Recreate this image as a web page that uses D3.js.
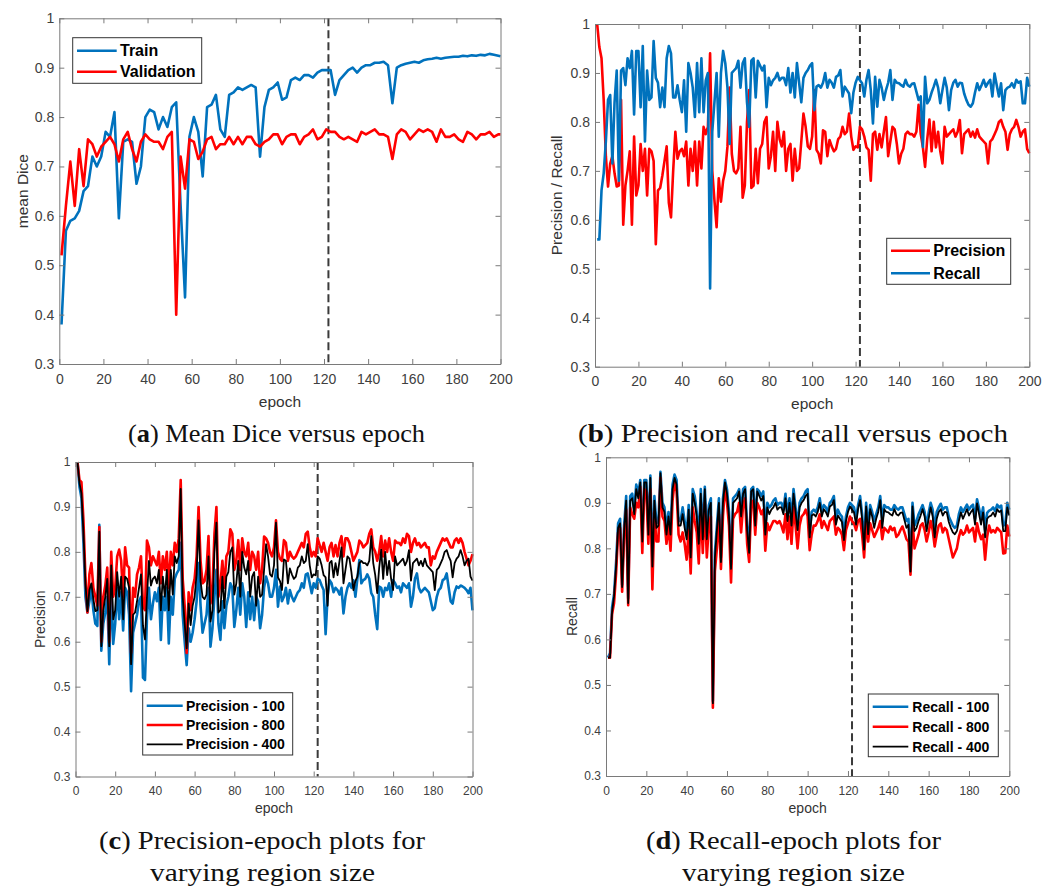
<!DOCTYPE html>
<html>
<head>
<meta charset="utf-8">
<script src="https://cdn.jsdelivr.net/npm/d3@7"></script>
<style>
  body { margin: 0; background: #fff; }
  svg { display: block; font-family: "Liberation Sans", Arial, sans-serif; }
</style>
</head>
<body>
<svg id="fig" width="1051" height="887"></svg>
<script>
// ---- categories / ticks ----
var epochsA = d3.range(1, 200, 2).concat([200]); // panel (a) sampled every other epoch
var epochs = d3.range(1, 201);                   // panels (b)-(d) every epoch
var xTicks = [0, 20, 40, 60, 80, 100, 120, 140, 160, 180, 200];
var xTickLabels = ['0', '20', '40', '60', '80', '100', '120', '140', '160', '180', '200'];
var yTicks = [0.3, 0.4, 0.5, 0.6, 0.7, 0.8, 0.9, 1];
var yTickLabels = ['0.3', '0.4', '0.5', '0.6', '0.7', '0.8', '0.9', '1'];
var bestEpoch = 122; // dashed marker

// ---- (a) mean Dice, epochs 1,3,...,199,200 ----
var trainDice = [
  0.38, 0.57, 0.59, 0.595, 0.61, 0.65, 0.66, 0.72, 0.70, 0.72,
  0.77, 0.76, 0.81, 0.595, 0.75, 0.755, 0.75, 0.665, 0.70, 0.80,
  0.815, 0.81, 0.775, 0.80, 0.78, 0.82, 0.83, 0.62, 0.435, 0.76,
  0.80, 0.77, 0.68, 0.82, 0.825, 0.845, 0.775, 0.76, 0.845, 0.85,
  0.86, 0.855, 0.86, 0.865, 0.86, 0.72, 0.82, 0.855, 0.86, 0.87,
  0.835, 0.84, 0.875, 0.88, 0.875, 0.885, 0.885, 0.88, 0.89, 0.895,
  0.895, 0.895, 0.845, 0.875, 0.885, 0.895, 0.90, 0.89, 0.90, 0.905,
  0.905, 0.91, 0.91, 0.912, 0.905, 0.828, 0.90, 0.905, 0.908, 0.91,
  0.912, 0.91, 0.915, 0.917, 0.918, 0.92, 0.918, 0.92, 0.921, 0.922,
  0.922, 0.924, 0.923, 0.925, 0.924, 0.926, 0.925, 0.928, 0.926, 0.924,
  0.923
];
var valDice = [
  0.52, 0.62, 0.71, 0.62, 0.735, 0.66, 0.755, 0.745, 0.72, 0.74,
  0.75, 0.76, 0.745, 0.71, 0.755, 0.77, 0.735, 0.71, 0.75, 0.765,
  0.755, 0.75, 0.75, 0.735, 0.76, 0.77, 0.40, 0.72, 0.655, 0.755,
  0.75, 0.715, 0.73, 0.755, 0.76, 0.735, 0.745, 0.745, 0.76, 0.745,
  0.76, 0.745, 0.76, 0.76, 0.745, 0.74, 0.75, 0.755, 0.765, 0.765,
  0.745, 0.76, 0.765, 0.765, 0.745, 0.76, 0.765, 0.775, 0.755, 0.76,
  0.775, 0.77, 0.77, 0.76, 0.755, 0.76, 0.755, 0.75, 0.77, 0.765,
  0.77, 0.775, 0.765, 0.765, 0.76, 0.715, 0.765, 0.775, 0.77, 0.755,
  0.765, 0.775, 0.77, 0.775, 0.77, 0.75, 0.775, 0.76, 0.76, 0.765,
  0.755, 0.75, 0.77, 0.765, 0.755, 0.765, 0.765, 0.77, 0.76, 0.765,
  0.765
];

// ---- precision, region size 400 (also panel b), epochs 1..200 ----
var precision400 = [
  1.0, 0.953, 0.93, 0.845, 0.73, 0.668, 0.715, 0.73, 0.695, 0.668,
  0.67, 0.845, 0.59, 0.67, 0.70, 0.74, 0.59, 0.77, 0.65, 0.67,
  0.755, 0.70, 0.745, 0.65, 0.745, 0.74, 0.72, 0.55, 0.66, 0.665,
  0.69, 0.72, 0.75, 0.635, 0.605, 0.70, 0.78, 0.725, 0.74, 0.745,
  0.73, 0.76, 0.67, 0.745, 0.70, 0.76, 0.67, 0.76, 0.705, 0.79,
  0.775, 0.79, 0.94, 0.70, 0.64, 0.585, 0.685, 0.637, 0.68, 0.70,
  0.75, 0.87, 0.735, 0.70, 0.695, 0.705, 0.79, 0.645, 0.67, 0.80,
  0.865, 0.665, 0.67, 0.745, 0.675, 0.745, 0.755, 0.80, 0.81, 0.705,
  0.73, 0.78, 0.70, 0.80, 0.765, 0.75, 0.78, 0.70, 0.745, 0.755,
  0.68, 0.745, 0.70, 0.705, 0.76, 0.817, 0.79, 0.75, 0.745, 0.77,
  0.865, 0.743, 0.735, 0.715, 0.783, 0.78, 0.73, 0.763, 0.75, 0.74,
  0.745, 0.765, 0.77, 0.79, 0.775, 0.78, 0.817, 0.77, 0.743, 0.75,
  0.748, 0.79, 0.785, 0.77, 0.748, 0.743, 0.68, 0.775, 0.78, 0.743,
  0.775, 0.748, 0.78, 0.81, 0.73, 0.76, 0.79, 0.785, 0.755, 0.715,
  0.735, 0.745, 0.775, 0.78, 0.775, 0.775, 0.77, 0.78, 0.835, 0.775,
  0.748, 0.708, 0.765, 0.805, 0.74, 0.80, 0.748, 0.78, 0.74, 0.715,
  0.79, 0.77, 0.775, 0.78, 0.785, 0.77, 0.78, 0.804, 0.736, 0.775,
  0.78, 0.785, 0.77, 0.78, 0.768, 0.785, 0.77, 0.765, 0.76, 0.755,
  0.715, 0.76, 0.765, 0.775, 0.785, 0.80, 0.804, 0.79, 0.78, 0.743,
  0.775, 0.785, 0.79, 0.804, 0.79, 0.77, 0.78, 0.785, 0.745, 0.736
];
var precision800 = [
  1.0, 0.96, 0.955, 0.87, 0.745, 0.665, 0.75, 0.775, 0.72, 0.70,
  0.68, 0.855, 0.60, 0.70, 0.725, 0.765, 0.60, 0.80, 0.70, 0.72,
  0.79, 0.805, 0.78, 0.70, 0.81, 0.77, 0.765, 0.575, 0.72, 0.70,
  0.75, 0.765, 0.79, 0.68, 0.67, 0.825, 0.81, 0.77, 0.79, 0.78,
  0.77, 0.80, 0.73, 0.79, 0.76, 0.80, 0.72, 0.80, 0.77, 0.82,
  0.80, 0.83, 0.96, 0.74, 0.68, 0.575, 0.71, 0.67, 0.72, 0.74,
  0.79, 0.90, 0.78, 0.73, 0.735, 0.76, 0.835, 0.685, 0.72, 0.84,
  0.90, 0.70, 0.73, 0.78, 0.72, 0.79, 0.80, 0.85, 0.84, 0.76,
  0.78, 0.826, 0.76, 0.83, 0.80, 0.79, 0.82, 0.76, 0.80, 0.79,
  0.76, 0.80, 0.73, 0.76, 0.834, 0.83, 0.82, 0.80, 0.79, 0.81,
  0.87, 0.80, 0.785, 0.78, 0.826, 0.82, 0.78, 0.80, 0.79, 0.785,
  0.79, 0.80, 0.81, 0.82, 0.81, 0.84, 0.845, 0.81, 0.79, 0.80,
  0.79, 0.83, 0.815, 0.80, 0.82, 0.80, 0.78, 0.81, 0.82, 0.79,
  0.815, 0.79, 0.82, 0.835, 0.79, 0.83, 0.83, 0.82, 0.80, 0.78,
  0.79, 0.80, 0.825, 0.82, 0.81, 0.815, 0.82, 0.84, 0.85, 0.81,
  0.80, 0.78, 0.80, 0.835, 0.79, 0.825, 0.80, 0.83, 0.80, 0.78,
  0.825, 0.82, 0.82, 0.815, 0.83, 0.82, 0.84, 0.835, 0.80, 0.82,
  0.83, 0.815, 0.82, 0.81, 0.815, 0.82, 0.81, 0.81, 0.77, 0.79,
  0.785, 0.80, 0.81, 0.82, 0.83, 0.825, 0.83, 0.82, 0.81, 0.81,
  0.825, 0.83, 0.82, 0.83, 0.82, 0.80, 0.785, 0.77, 0.78, 0.795
];
var precision100 = [
  1.0, 0.945, 0.92, 0.82, 0.70, 0.665, 0.69, 0.72, 0.67, 0.64,
  0.635, 0.86, 0.58, 0.64, 0.665, 0.70, 0.55, 0.73, 0.595, 0.64,
  0.72, 0.65, 0.71, 0.625, 0.72, 0.71, 0.66, 0.49, 0.62, 0.64,
  0.66, 0.69, 0.70, 0.52, 0.515, 0.652, 0.72, 0.65, 0.685, 0.71,
  0.69, 0.72, 0.604, 0.70, 0.67, 0.72, 0.596, 0.70, 0.66, 0.74,
  0.752, 0.76, 0.82, 0.66, 0.60, 0.548, 0.63, 0.60, 0.62, 0.65,
  0.69, 0.775, 0.68, 0.62, 0.64, 0.66, 0.72, 0.589, 0.63, 0.70,
  0.76, 0.64, 0.604, 0.69, 0.63, 0.68, 0.70, 0.73, 0.72, 0.633,
  0.67, 0.72, 0.66, 0.73, 0.70, 0.633, 0.71, 0.65, 0.70, 0.648,
  0.70, 0.69, 0.63, 0.66, 0.72, 0.745, 0.73, 0.70, 0.70, 0.72,
  0.76, 0.678, 0.723, 0.69, 0.70, 0.72, 0.685, 0.715, 0.70, 0.69,
  0.70, 0.71, 0.715, 0.73, 0.72, 0.75, 0.752, 0.73, 0.708, 0.73,
  0.72, 0.74, 0.737, 0.725, 0.715, 0.617, 0.70, 0.737, 0.73, 0.71,
  0.72, 0.715, 0.705, 0.72, 0.663, 0.70, 0.72, 0.73, 0.72, 0.737,
  0.70, 0.74, 0.782, 0.73, 0.737, 0.74, 0.75, 0.74, 0.708, 0.70,
  0.66, 0.628, 0.723, 0.72, 0.70, 0.72, 0.715, 0.73, 0.70, 0.737,
  0.73, 0.72, 0.723, 0.71, 0.73, 0.725, 0.72, 0.73, 0.678, 0.70,
  0.74, 0.752, 0.72, 0.71, 0.715, 0.72, 0.715, 0.71, 0.69, 0.67,
  0.675, 0.70, 0.715, 0.72, 0.737, 0.74, 0.752, 0.72, 0.69, 0.685,
  0.71, 0.723, 0.72, 0.725, 0.723, 0.72, 0.715, 0.708, 0.72, 0.67
];

// ---- recall, region size 400 (also panel b), epochs 1..200 ----
var recall400 = [
  0.56, 0.56, 0.66, 0.695, 0.76, 0.845, 0.855, 0.715, 0.84, 0.905,
  0.68, 0.905, 0.91, 0.875, 0.93, 0.91, 0.945, 0.815, 0.945, 0.945,
  0.83, 0.955, 0.76, 0.905, 0.845, 0.85, 0.965, 0.89, 0.88, 0.83,
  0.87, 0.83, 0.93, 0.955, 0.94, 0.85, 0.85, 0.875, 0.845, 0.82,
  0.885, 0.78, 0.92, 0.90, 0.87, 0.81, 0.92, 0.82, 0.93, 0.82,
  0.885, 0.90, 0.46, 0.78, 0.84, 0.90, 0.77, 0.90, 0.945, 0.92,
  0.87, 0.755, 0.90, 0.905, 0.91, 0.925, 0.87, 0.92, 0.93, 0.84,
  0.79, 0.925, 0.93, 0.85, 0.925, 0.915, 0.905, 0.915, 0.83, 0.89,
  0.875, 0.885, 0.89, 0.90, 0.885, 0.89, 0.89, 0.875, 0.91, 0.86,
  0.90, 0.85, 0.92, 0.88, 0.84, 0.89, 0.90, 0.906, 0.915, 0.92,
  0.824, 0.872, 0.875, 0.87, 0.88, 0.90, 0.87, 0.886, 0.88, 0.87,
  0.892, 0.895, 0.906, 0.852, 0.872, 0.865, 0.858, 0.818, 0.86, 0.88,
  0.892, 0.885, 0.879, 0.852, 0.886, 0.906, 0.865, 0.797, 0.892, 0.831,
  0.886, 0.87, 0.845, 0.865, 0.88, 0.906, 0.845, 0.886, 0.88, 0.879,
  0.875, 0.872, 0.886, 0.875, 0.872, 0.878, 0.879, 0.862, 0.845, 0.852,
  0.749, 0.892, 0.838, 0.845, 0.86, 0.872, 0.886, 0.87, 0.838, 0.865,
  0.89, 0.87, 0.824, 0.865, 0.88, 0.886, 0.872, 0.88, 0.879, 0.858,
  0.845, 0.835, 0.831, 0.838, 0.86, 0.879, 0.865, 0.875, 0.886, 0.872,
  0.88, 0.886, 0.852, 0.899, 0.875, 0.852, 0.879, 0.824, 0.865, 0.87,
  0.872, 0.879, 0.87, 0.886, 0.88, 0.883, 0.838, 0.838, 0.89, 0.872
];
var recall800 = [
  0.56, 0.56, 0.655, 0.68, 0.745, 0.835, 0.845, 0.705, 0.83, 0.885,
  0.675, 0.89, 0.875, 0.865, 0.90, 0.89, 0.935, 0.79, 0.93, 0.925,
  0.81, 0.93, 0.71, 0.88, 0.815, 0.815, 0.955, 0.87, 0.86, 0.81,
  0.85, 0.795, 0.905, 0.945, 0.925, 0.83, 0.815, 0.835, 0.81, 0.775,
  0.84, 0.745, 0.89, 0.86, 0.835, 0.767, 0.89, 0.79, 0.90, 0.78,
  0.85, 0.87, 0.45, 0.75, 0.80, 0.875, 0.755, 0.87, 0.935, 0.90,
  0.85, 0.725, 0.865, 0.875, 0.88, 0.90, 0.835, 0.895, 0.91, 0.81,
  0.77, 0.90, 0.905, 0.83, 0.90, 0.89, 0.875, 0.885, 0.795, 0.855,
  0.84, 0.85, 0.86, 0.86, 0.855, 0.86, 0.85, 0.835, 0.875, 0.82,
  0.87, 0.81, 0.89, 0.85, 0.80, 0.85, 0.87, 0.875, 0.885, 0.87,
  0.796, 0.83, 0.85, 0.85, 0.86, 0.875, 0.845, 0.86, 0.85, 0.84,
  0.86, 0.865, 0.87, 0.83, 0.845, 0.84, 0.83, 0.796, 0.84, 0.855,
  0.87, 0.86, 0.855, 0.84, 0.86, 0.865, 0.83, 0.78, 0.86, 0.815,
  0.855, 0.84, 0.825, 0.835, 0.845, 0.86, 0.82, 0.845, 0.84, 0.835,
  0.848, 0.84, 0.845, 0.825, 0.83, 0.84, 0.848, 0.835, 0.82, 0.815,
  0.742, 0.86, 0.80, 0.815, 0.83, 0.85, 0.855, 0.84, 0.815, 0.835,
  0.86, 0.84, 0.804, 0.83, 0.85, 0.855, 0.835, 0.845, 0.84, 0.82,
  0.80, 0.78, 0.79, 0.80, 0.825, 0.84, 0.83, 0.835, 0.85, 0.835,
  0.84, 0.845, 0.815, 0.855, 0.835, 0.82, 0.83, 0.775, 0.825, 0.85,
  0.835, 0.84, 0.835, 0.845, 0.84, 0.835, 0.789, 0.79, 0.85, 0.826
];
var recall100 = [
  0.56, 0.57, 0.67, 0.70, 0.77, 0.855, 0.865, 0.72, 0.85, 0.915,
  0.69, 0.915, 0.92, 0.885, 0.94, 0.92, 0.95, 0.825, 0.95, 0.95,
  0.84, 0.96, 0.77, 0.915, 0.855, 0.86, 0.968, 0.90, 0.89, 0.84,
  0.88, 0.84, 0.94, 0.962, 0.95, 0.86, 0.86, 0.89, 0.86, 0.83,
  0.895, 0.79, 0.93, 0.915, 0.88, 0.82, 0.93, 0.83, 0.935, 0.83,
  0.895, 0.91, 0.465, 0.79, 0.85, 0.91, 0.78, 0.91, 0.95, 0.93,
  0.88, 0.765, 0.91, 0.915, 0.92, 0.93, 0.88, 0.93, 0.935, 0.85,
  0.80, 0.93, 0.935, 0.86, 0.93, 0.925, 0.915, 0.925, 0.84, 0.90,
  0.89, 0.895, 0.905, 0.91, 0.895, 0.90, 0.90, 0.885, 0.92, 0.87,
  0.91, 0.865, 0.93, 0.89, 0.85, 0.90, 0.91, 0.915, 0.925, 0.93,
  0.835, 0.88, 0.885, 0.88, 0.89, 0.91, 0.88, 0.895, 0.89, 0.88,
  0.90, 0.905, 0.915, 0.865, 0.885, 0.875, 0.87, 0.83, 0.87, 0.89,
  0.90, 0.895, 0.89, 0.865, 0.895, 0.915, 0.875, 0.81, 0.90, 0.845,
  0.895, 0.88, 0.86, 0.875, 0.89, 0.915, 0.86, 0.895, 0.89, 0.89,
  0.885, 0.885, 0.895, 0.888, 0.885, 0.89, 0.89, 0.875, 0.86, 0.865,
  0.755, 0.90, 0.85, 0.86, 0.875, 0.885, 0.895, 0.88, 0.85, 0.878,
  0.90, 0.885, 0.84, 0.88, 0.89, 0.898, 0.885, 0.89, 0.89, 0.87,
  0.86, 0.85, 0.845, 0.85, 0.875, 0.89, 0.88, 0.888, 0.896, 0.885,
  0.892, 0.896, 0.865, 0.908, 0.888, 0.865, 0.89, 0.84, 0.878, 0.883,
  0.885, 0.89, 0.882, 0.896, 0.89, 0.894, 0.85, 0.852, 0.90, 0.885
];

var BLUE = '#0072BD', RED = '#FF0000', BLACK = '#000000';

var svg = d3.select('#fig');

// one MATLAB-style axes box with ticks on all four sides
function drawPanel(p) {
  var x = d3.scaleLinear().domain([0, 200]).range([p.left, p.right]);
  var y = d3.scaleLinear().domain([0.3, 1]).range([p.bottom, p.top]);
  var g = svg.append('g');

  var line = d3.line()
    .x(function(d, i) { return x(p.xs[i]); })
    .y(function(d) { return y(d); });

  // dashed marker for the chosen epoch
  g.append('line')
    .attr('x1', x(bestEpoch)).attr('x2', x(bestEpoch))
    .attr('y1', p.top).attr('y2', p.bottom)
    .attr('stroke', '#3a3a3a')
    .attr('stroke-width', 2)
    .attr('stroke-dasharray', '8,4');

  p.series.forEach(function(s) {
    g.append('path')
      .datum(s.values)
      .attr('d', line)
      .attr('fill', 'none')
      .attr('stroke', s.color)
      .attr('stroke-width', s.width)
      .attr('stroke-linejoin', 'round');
  });

  var bottomAxis = g.append('g')
    .attr('transform', 'translate(0,' + p.bottom + ')')
    .call(d3.axisBottom(x).tickValues(xTicks)
      .tickFormat(function(d, i) { return xTickLabels[i]; })
      .tickSize(-5).tickSizeOuter(0).tickPadding(p.xPad));
  var leftAxis = g.append('g')
    .attr('transform', 'translate(' + p.left + ',0)')
    .call(d3.axisLeft(y).tickValues(yTicks)
      .tickFormat(function(d, i) { return yTickLabels[i]; })
      .tickSize(-5).tickSizeOuter(0).tickPadding(5));
  var topAxis = g.append('g')
    .attr('transform', 'translate(0,' + p.top + ')')
    .call(d3.axisTop(x).tickValues(xTicks).tickFormat('').tickSize(-5).tickSizeOuter(0));
  var rightAxis = g.append('g')
    .attr('transform', 'translate(' + p.right + ',0)')
    .call(d3.axisRight(y).tickValues(yTicks).tickFormat('').tickSize(-5).tickSizeOuter(0));

  [bottomAxis, leftAxis, topAxis, rightAxis].forEach(function(a) {
    a.attr('font-family', null).attr('font-size', null);
    a.selectAll('path, line').attr('stroke', '#7a7a7a').attr('stroke-width', 1);
    a.selectAll('text')
      .attr('fill', '#404040')
      .style('font-size', p.tickFont + 'px');
  });

  // axis labels
  g.append('text')
    .attr('x', (p.left + p.right) / 2)
    .attr('y', p.xLabelY)
    .attr('text-anchor', 'middle')
    .attr('fill', '#333')
    .style('font-size', p.labelFont + 'px')
    .text('epoch');

  g.append('text')
    .attr('transform', 'translate(' + p.yLabelX + ',' + ((p.top + p.bottom) / 2) + ') rotate(-90)')
    .attr('dy', '0.35em')
    .attr('text-anchor', 'middle')
    .attr('fill', '#333')
    .style('font-size', p.labelFont + 'px')
    .text(p.yLabel);

  // legend
  var L = p.legend;
  var lg = g.append('g');
  lg.append('rect')
    .attr('x', L.x0).attr('y', L.y0)
    .attr('width', L.x1 - L.x0).attr('height', L.y1 - L.y0)
    .attr('fill', '#fff')
    .attr('stroke', '#333')
    .attr('stroke-width', 1);
  p.series.forEach(function(s, i) {
    lg.append('line')
      .attr('x1', L.sx0).attr('x2', L.sx1)
      .attr('y1', L.rows[i]).attr('y2', L.rows[i])
      .attr('stroke', s.color)
      .attr('stroke-width', s.width);
    lg.append('text')
      .attr('x', L.tx)
      .attr('y', L.rows[i])
      .attr('dy', '0.35em')
      .attr('font-weight', 'bold')
      .attr('fill', '#000')
      .style('font-size', L.font + 'px')
      .text(s.label);
  });
}

var panels = [
  { // (a)
    left: 59.3, right: 500.5, top: 18.3, bottom: 364,
    xs: epochsA, tickFont: 14, xPad: 10, labelFont: 15.5,
    xLabelY: 407, yLabel: 'mean Dice', yLabelX: 22.7,
    series: [
      { values: trainDice, color: BLUE, width: 2.6, label: 'Train' },
      { values: valDice, color: RED, width: 2.6, label: 'Validation' }
    ],
    legend: { x0: 72.7, x1: 201.7, y0: 37.7, y1: 83.3, sx0: 77, sx1: 116.7, tx: 120, rows: [50.7, 71.7], font: 16 }
  },
  { // (b)
    left: 595, right: 1029.3, top: 24, bottom: 366.7,
    xs: epochs, tickFont: 14, xPad: 9, labelFont: 15.5,
    xLabelY: 409, yLabel: 'Precision / Recall', yLabelX: 556.7,
    series: [
      { values: precision400, color: RED, width: 2.6, label: 'Precision' },
      { values: recall400, color: BLUE, width: 2.6, label: 'Recall' }
    ],
    legend: { x0: 886.7, x1: 1010.7, y0: 238.3, y1: 284.3, sx0: 891, sx1: 930, tx: 933.3, rows: [250.7, 273.3], font: 16 }
  },
  { // (c)
    left: 75.5, right: 472.5, top: 462, bottom: 776.5,
    xs: epochs, tickFont: 12, xPad: 10, labelFont: 14,
    xLabelY: 813, yLabel: 'Precision', yLabelX: 40,
    series: [
      { values: precision100, color: BLUE, width: 2.6, label: 'Precision - 100' },
      { values: precision800, color: RED, width: 2.6, label: 'Precision - 800' },
      { values: precision400, color: BLACK, width: 1.8, label: 'Precision - 400' }
    ],
    legend: { x0: 142.7, x1: 292.7, y0: 692.7, y1: 755, sx0: 146.7, sx1: 182.7, tx: 186, rows: [705.7, 725, 744.3], font: 14 }
  },
  { // (d)
    left: 606, right: 1009.3, top: 457.3, bottom: 776,
    xs: epochs, tickFont: 12, xPad: 10, labelFont: 14,
    xLabelY: 813, yLabel: 'Recall', yLabelX: 571.7,
    series: [
      { values: recall100, color: BLUE, width: 2.6, label: 'Recall - 100' },
      { values: recall800, color: RED, width: 2.6, label: 'Recall - 800' },
      { values: recall400, color: BLACK, width: 1.8, label: 'Recall - 400' }
    ],
    legend: { x0: 868.3, x1: 998.3, y0: 694, y1: 756.7, sx0: 872.7, sx1: 908.3, tx: 912.3, rows: [706.7, 726.7, 746.7], font: 14 }
  }
];

panels.forEach(drawPanel);

// sub-figure captions (serif, bold letter)
var captions = [
  { letter: 'a', rest: ') Mean Dice versus epoch', x0: 128, x1: 425, y: 442 },
  { letter: 'b', rest: ') Precision and recall versus epoch', x0: 578, x1: 1008, y: 442 },
  { letter: 'c', rest: ') Precision-epoch plots for', x0: 99, x1: 425, y: 849 },
  { letter: null, rest: 'varying region size', x0: 150, x1: 375, y: 880.5 },
  { letter: 'd', rest: ') Recall-epoch plots for', x0: 646, x1: 941, y: 849 },
  { letter: null, rest: 'varying region size', x0: 682, x1: 905, y: 880.5 }
];

captions.forEach(function(c) {
  var t = svg.append('text')
    .attr('x', c.x0)
    .attr('y', c.y)
    .attr('fill', '#111')
    .attr('textLength', c.x1 - c.x0)
    .attr('lengthAdjust', 'spacingAndGlyphs')
    .style('font-family', '"Liberation Serif", "Times New Roman", serif')
    .style('font-size', '26px');
  if (c.letter) {
    t.append('tspan').text('(');
    t.append('tspan').attr('font-weight', 'bold').text(c.letter);
  }
  t.append('tspan').text(c.rest);
});
</script>
</body>
</html>
